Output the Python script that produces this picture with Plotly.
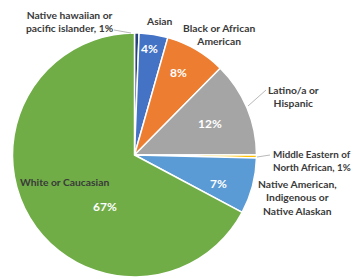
import plotly.graph_objects as go

# ---- data ----
categories = [
    "Native hawaiian or<br>pacific islander, 1%",
    "Asian",
    "Black or African<br>American",
    "Latino/a or<br>Hispanic",
    "Middle Eastern of<br>North African, 1%",
    "Native American,<br>Indigenous or<br>Native Alaskan",
    "White or Caucasian",
]
values = [0.6, 3.8, 8.0, 12.6, 0.4, 7.4, 67.2]
pct_labels = [None, "4%", "8%", "12%", None, "7%", "67%"]

colors = ["#264478", "#4472C4", "#ED7D31", "#A5A5A5", "#FFC000", "#5B9BD5", "#70AD47"]

W, H = 353, 279

fig = go.Figure(go.Pie(
    labels=categories,
    values=values,
    sort=False,
    direction="clockwise",
    rotation=0,
    textinfo="none",
    hoverinfo="label+percent",
    marker=dict(colors=colors, line=dict(color="white", width=1.5)),
    domain=dict(x=[12.5 / W, 256.5 / W], y=[1 - 277 / H, 1 - 33 / H]),
    showlegend=False,
))

# label placement (pixel positions in the 353x279 canvas)
name_pos = [
    (70, 22, "center", 10.3),
    (159, 21, "center", 10.3),
    (219, 34, "center", 10.3),
    (293, 96, "center", 10.3),
    (271, 160, "left", 9.8),
    (297, 197, "center", 10.3),
    (64, 182, "center", 10.3),
]
pct_pos = [None, (149, 48), (179, 72), (210, 123), None, (218, 183), (105, 206)]

FONT = "Lato, Calibri, Carlito, sans-serif"
annotations = []
for name, (x, y, al, sz) in zip(categories, name_pos):
    annotations.append(dict(
        x=x / W, y=1 - y / H, xref="paper", yref="paper",
        text="<b>" + name + "</b>", showarrow=False,
        xanchor=al if al == "left" else "center", yanchor="middle", align=al,
        font=dict(family=FONT, size=sz, color="#3A3A3A"),
    ))
for lab, pos in zip(pct_labels, pct_pos):
    if lab is None:
        continue
    x, y = pos
    annotations.append(dict(
        x=x / W, y=1 - y / H, xref="paper", yref="paper",
        text="<b>" + lab + "</b>", showarrow=False,
        xanchor="center", yanchor="middle",
        font=dict(family=FONT, size=12, color="white"),
    ))

leaders = [
    ((114, 30), (131, 33)),
    ((266, 90), (248, 106)),
    ((257, 157), (270, 155)),
]
shapes = []
for (x0, y0), (x1, y1) in leaders:
    shapes.append(dict(
        type="line", xref="paper", yref="paper",
        x0=x0 / W, y0=1 - y0 / H, x1=x1 / W, y1=1 - y1 / H,
        line=dict(color="#A6A6A6", width=0.8),
    ))

fig.update_layout(
    width=W, height=H,
    margin=dict(l=0, r=0, t=0, b=0),
    paper_bgcolor="white", plot_bgcolor="white",
    annotations=annotations,
    shapes=shapes,
    font=dict(family=FONT),
)

fig.write_html(
    "out.html",
    config={"displayModeBar": False},
    post_script="document.body.style.margin='0';document.body.style.padding='0';",
)
